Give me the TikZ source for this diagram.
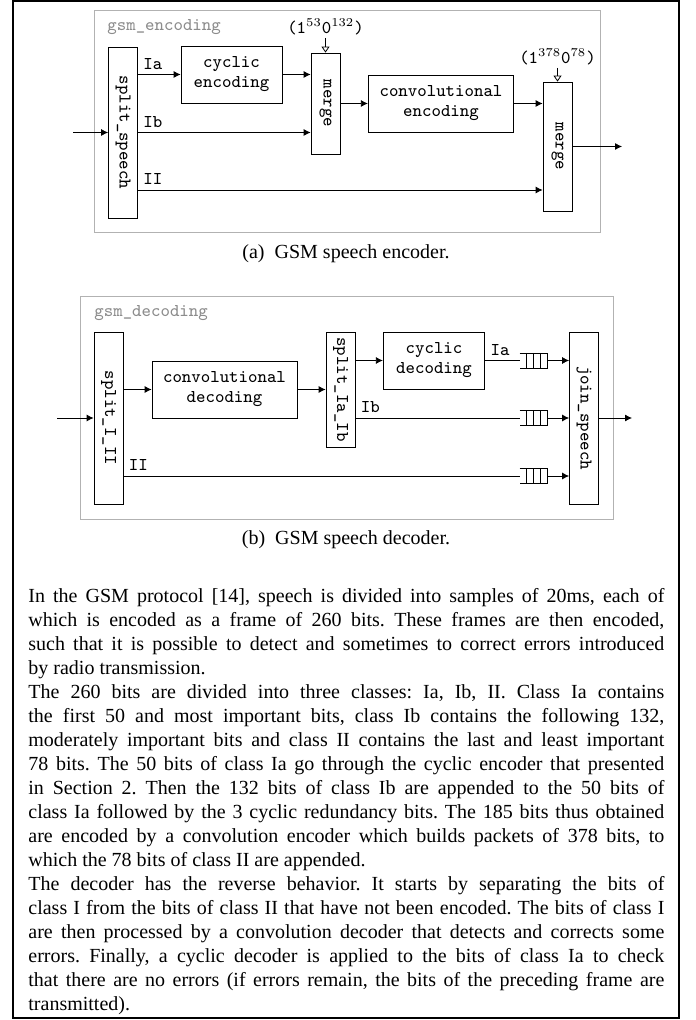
\documentclass[tikz,border=0pt]{standalone}
\usepackage{fontspec}
\setmainfont{Liberation Serif}
\usepackage{graphicx}
\usetikzlibrary{arrows.meta,positioning}

\begin{document}
\begin{tikzpicture}[%
    x=0.5pt,
    y=-0.5pt,
    >={Latex[length=3.5pt,width=3.5pt]},
    on grid,
    blk/.style={draw,font=\fontsize{9}{10}\selectfont\ttfamily,align=center,inner sep=0pt,
        minimum width=#1,minimum height=28.5pt},
    bar/.style={draw,font=\small\ttfamily,inner sep=0pt,
        minimum width=14.5pt,minimum height=#1},
    grp/.style={draw=black!30},
    grplabel/.style={font=\small\ttfamily,text=black!45,anchor=west,inner sep=0pt},
    lbl/.style={font=\small\ttfamily,above right,inner sep=2.5pt},
    ann/.style={font=\small\ttfamily,inner sep=1pt},
    annarrow/.style={-{Triangle[open,length=3pt,width=4pt]}},
    caption/.style={font=\normalsize},
    queue/.pic={
        \draw (-7pt,3.75pt) -- (7pt,3.75pt) -- (7pt,-3.75pt) -- (-7pt,-3.75pt);
        \foreach \q in {-3.5pt,0pt,3.5pt}
            \draw (\q,3.75pt) -- (\q,-3.75pt);
        \coordinate (-in) at (-7pt,0pt);
        \coordinate (-out) at (7pt,0pt);
    }
    ]

    \useasboundingbox (0,0) rectangle (695,1020);
    \draw[line width=0.6pt] (13,1) rectangle (679,1018);

    \draw[grp] (94.5,10) rectangle (600,232);
    \node[grplabel] (enclbl) at (107,27) {gsm\_encoding};

    \node[bar=85.5pt] (sp) at (123,132.5) {\rotatebox{-90}{split\_speech}};
    \node[blk=50.5pt] (cenc) at (231.5,74.5) {cyclic\\encoding};
    \node[bar=50.5pt] (m1) at (325.5,103.5) {\rotatebox{-90}{merge}};
    \node[blk=72.75pt] (cenv) at (441,103.5) {convolutional\\encoding};
    \node[bar=64.5pt] (m2) at (557.5,146.5) {\rotatebox{-90}{merge}};

    \node[ann] (r1) [above=38.25pt of m1] {(1$^{53}$0$^{132}$)};
    \node[ann] (r2) [above=44.75pt of m2] {(1$^{378}$0$^{78}$)};
    \draw[annarrow] (r1) -- (m1);
    \draw[annarrow] (r2) -- (m2);

    \coordinate (encin) at (73,132.5);
    \coordinate (encout) at (622,146.5);
    \coordinate (encII) at ([yshift=-28.75pt]sp.east);

    \path[->] (encin) edge (sp)
        (sp.east |- cenc) edge node[lbl,pos=0] {Ia} (cenc)
        (sp) edge node[lbl,pos=0] {Ib} (m1.west |- sp)
        (encII) edge node[lbl,pos=0] {II} (m2.west |- encII)
        (cenc) edge (m1.west |- cenc)
        (m1) edge (cenv)
        (cenv) edge (m2.west |- cenv)
        (m2) edge (encout);

    \node[caption] (capa) at (346,254) {(a)\enspace GSM speech encoder.};

    \draw[grp] (80,296) rectangle (613,519);
    \node[grplabel] (declbl) at (94,313) {gsm\_decoding};

    \node[bar=86pt] (s12) at (108.5,418) {\rotatebox{-90}{split\_I\_II}};
    \node[blk=72.5pt] (cdec) at (224.5,389.5) {convolutional\\decoding};
    \node[bar=57.5pt] (sab) at (340.5,389.5) {\rotatebox{-90}{split\_Ia\_Ib}};
    \node[blk=50.75pt] (cyd) at (434,360.5) {cyclic\\decoding};
    \node[bar=86pt] (join) at (584,418) {\rotatebox{-90}{join\_speech}};

    \pic (qa) at (533.5,360.5) {queue};
    \pic (qb) at (533.5,418) {queue};
    \pic (qc) at (533.5,476) {queue};

    \coordinate (decin) at (57,418);
    \coordinate (decout) at (632,418);
    \coordinate (decII) at ([yshift=-29pt]s12.east);

    \path[->] (decin) edge (s12)
        (s12.east |- cdec) edge (cdec)
        (cdec) edge (sab)
        (sab.east |- cyd) edge (cyd)
        (qa-out) edge (join.west |- qa-out)
        (qb-out) edge (join)
        (qc-out) edge (join.west |- qc-out)
        (join) edge (decout);
    \path (cyd) edge node[lbl,pos=0] {Ia} (qa-in)
        (s12.east -| sab.east) edge node[lbl,pos=0] {Ib} (qb-in)
        (decII) edge node[lbl,pos=0] {II} (qc-in);

    \node[caption] (capb) at (346,540) {(b)\enspace GSM speech decoder.};

    \node[anchor=north west,text width=318pt,inner sep=0pt,align=justify,
        font=\normalsize] (txt) at (28,588) {\setlength{\parindent}{0pt}\frenchspacing
        In the GSM protocol [14], speech is divided into samples of 20ms, each of\linebreak
        which is encoded as a frame of 260 bits. These frames are then encoded,\linebreak
        such that it is possible to detect and sometimes to correct errors introduced\linebreak
        by radio transmission.\par
        The 260 bits are divided into three classes: Ia, Ib, II. Class Ia contains\linebreak
        the first 50 and most important bits, class Ib contains the following 132,\linebreak
        moderately important bits and class II contains the last and least important\linebreak
        78 bits. The 50 bits of class Ia go through the cyclic encoder that presented\linebreak
        in Section 2. Then the 132 bits of class Ib are appended to the 50 bits of\linebreak
        class Ia followed by the 3 cyclic redundancy bits. The 185 bits thus obtained\linebreak
        are encoded by a convolution encoder which builds packets of 378 bits, to\linebreak
        which the 78 bits of class II are appended.\par
        The decoder has the reverse behavior. It starts by separating the bits of\linebreak
        class I from the bits of class II that have not been encoded. The bits of class I\linebreak
        are then processed by a convolution decoder that detects and corrects some\linebreak
        errors. Finally, a cyclic decoder is applied to the bits of class Ia to check\linebreak
        that there are no errors (if errors remain, the bits of the preceding frame are\linebreak
        transmitted).};

    \end{tikzpicture}
\end{document}
